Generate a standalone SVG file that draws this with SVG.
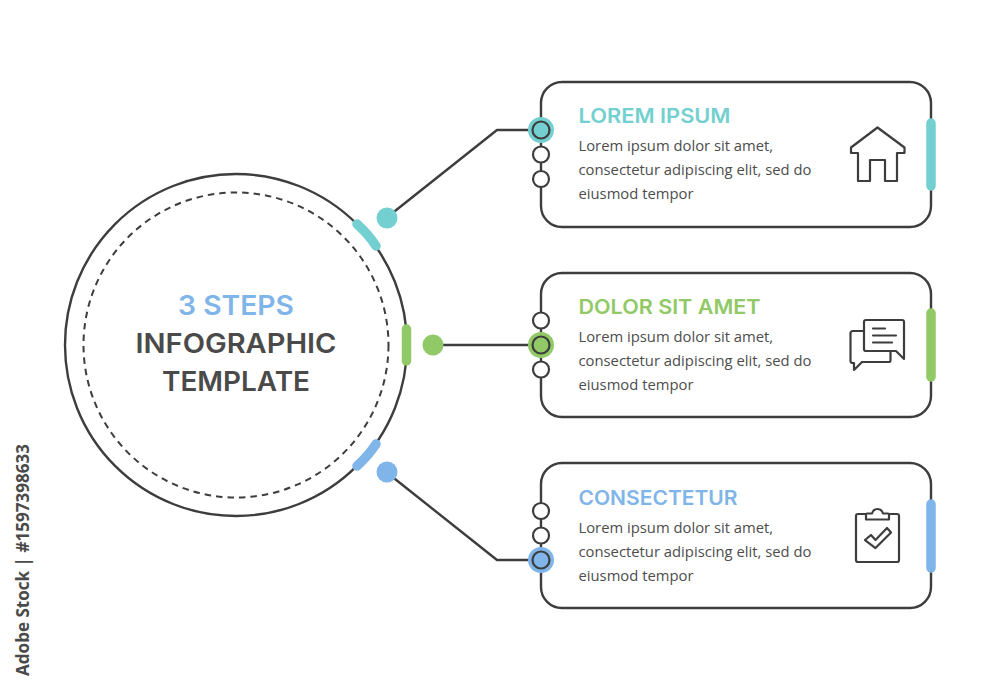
<svg xmlns="http://www.w3.org/2000/svg" width="1000" height="690" viewBox="0 0 1000 690">
<style>
.ln{fill:none;stroke:#3d3d3d;stroke-width:2.4;stroke-linecap:round;stroke-linejoin:round}
.ic{fill:none;stroke:#3d3d3d;stroke-width:2.2;stroke-linejoin:round;stroke-linecap:round}
.box{fill:#fff;stroke:#3d3d3d;stroke-width:2.4}
.dot{fill:#fff;stroke:#3d3d3d;stroke-width:2.2}
.tick{fill:none;stroke-width:9.500;stroke-linecap:round}
.h{font-family:"Inter","Liberation Sans",sans-serif;font-weight:600;font-size:20px}
.b{font-family:"Open Sans","Liberation Sans",sans-serif;font-size:14.8px;fill:#4d4d4d}
.c{font-family:"Inter","Liberation Sans",sans-serif;font-weight:600;font-size:27px;text-anchor:middle}
.teal{stroke:#74d0d0}.green{stroke:#90c965}.blue{stroke:#7fb5e8}
.ft{fill:#74d0d0}.fg{fill:#90c965}.fb{fill:#7fb5e8}
</style>
<rect width="1000" height="690" fill="#fff"/>
<g id="connectors">
<path class="ln" d="M395 211L497 130H541"/>
<path class="ln" d="M433 345H541"/>
<path class="ln" d="M395 479L497 560H541"/>
</g>
<g id="hub">
<circle cx="236" cy="345" r="171" fill="#fff" stroke="#3d3d3d" stroke-width="2.4"/>
<circle cx="236" cy="345" r="152.5" fill="none" stroke="#3d3d3d" stroke-width="2" stroke-dasharray="6.5 5"/>
<path class="tick teal" d="M357 224Q369 235 376 246"/>
<path class="tick green" d="M406.500 329V361"/>
<path class="tick blue" d="M357 466Q369 455 376 444"/>
<circle class="ft" cx="387" cy="218" r="10.500"/>
<circle class="fg" cx="433" cy="345" r="10.500"/>
<circle class="fb" cx="387" cy="472" r="10.500"/>
<text class="c fb" x="236" y="314.500" textLength="116" lengthAdjust="spacingAndGlyphs">3 STEPS</text>
<text class="c" x="236" y="353" fill="#4a4a4a" textLength="201" lengthAdjust="spacingAndGlyphs">INFOGRAPHIC</text>
<text class="c" x="236" y="391" fill="#4a4a4a" textLength="148" lengthAdjust="spacingAndGlyphs">TEMPLATE</text>
</g>
<g id="step1">
<rect class="box" x="541" y="82" width="390" height="145" rx="21"/>
<path class="tick teal" d="M931 123V186"/>
<circle class="ft" cx="541" cy="130" r="13"/>
<circle cx="541" cy="130" r="8.500" class="dot ft"/>
<circle class="dot" cx="541" cy="154.500" r="8"/>
<circle class="dot" cx="541" cy="179" r="8"/>
<text class="h ft" x="578.500" y="123" textLength="152" lengthAdjust="spacingAndGlyphs">LOREM IPSUM</text>
<text class="b"><tspan x="578.500" y="150.500">Lorem ipsum dolor sit amet,</tspan><tspan x="578.500" y="174.500">consectetur adipiscing elit, sed do</tspan><tspan x="578.500" y="198.500">eiusmod tempor</tspan></text>
<path class="ic" d="M877.500 127.500L904.500 147.500V153H897V181H885V160H870V181H858V153H851V147.500Z"/>
</g>
<g id="step2">
<rect class="box" x="541" y="273" width="390" height="144" rx="21"/>
<path class="tick green" d="M931 313V377"/>
<circle class="fg" cx="541" cy="345" r="13"/>
<circle class="dot" cx="541" cy="320.500" r="8"/>
<circle cx="541" cy="345" r="8.500" class="dot fg"/>
<circle class="dot" cx="541" cy="369.500" r="8"/>
<text class="h fg" x="578.500" y="314" textLength="182" lengthAdjust="spacingAndGlyphs">DOLOR SIT AMET</text>
<text class="b"><tspan x="578.500" y="341.500">Lorem ipsum dolor sit amet,</tspan><tspan x="578.500" y="365.500">consectetur adipiscing elit, sed do</tspan><tspan x="578.500" y="389.500">eiusmod tempor</tspan></text>
<path class="ic" d="M864 331H853Q850.500 331 850.500 333.500V361Q850.500 363 853 363H854V370L862 362H889Q890.500 362 890.500 360V352"/>
<path class="ic" d="M866 320H902Q904 320 904 322V359L896 351H866Q864 351 864 349V322Q864 320 866 320Z"/>
<path class="ic" d="M873 328.500H885M873 335.500H896M873 342.500H892"/>
</g>
<g id="step3">
<rect class="box" x="541" y="463" width="390" height="145" rx="21"/>
<path class="tick blue" d="M931 504V568"/>
<circle class="fb" cx="541" cy="560" r="13"/>
<circle class="dot" cx="541" cy="511" r="8"/>
<circle class="dot" cx="541" cy="535.500" r="8"/>
<circle cx="541" cy="560" r="8.500" class="dot fb"/>
<text class="h fb" x="578.500" y="505" textLength="159" lengthAdjust="spacingAndGlyphs">CONSECTETUR</text>
<text class="b"><tspan x="578.500" y="532.500">Lorem ipsum dolor sit amet,</tspan><tspan x="578.500" y="556.500">consectetur adipiscing elit, sed do</tspan><tspan x="578.500" y="580.500">eiusmod tempor</tspan></text>
<path class="ic" d="M866 514H858Q856 514 856 516V560Q856 562 858 562H897Q899 562 899 560V516Q899 514 897 514H889"/>
<path class="ic" d="M866 519.500V514Q866 513.500 867 513.500H872Q873.500 509 877.500 509Q881.500 509 883 513.500H888Q889 513.500 889 514V519.500Z"/>
<path class="ic" d="M865 540L871 535L875.500 540L887 528L891 532.500L875.500 548Z"/>
</g>
<text transform="translate(29 676) rotate(-90)" font-family="Open Sans, Liberation Sans, sans-serif" font-size="18" font-weight="700" fill="#4a4a4a" textLength="232" lengthAdjust="spacingAndGlyphs">Adobe Stock | #1597398633</text>
</svg>
